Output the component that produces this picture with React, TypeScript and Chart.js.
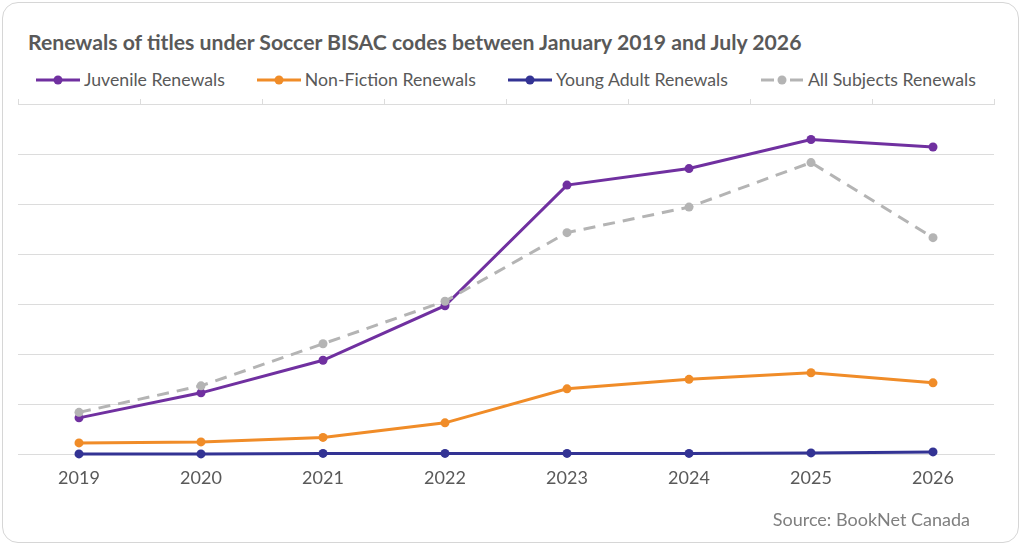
import { useEffect, useRef } from "react";
import { Chart, registerables } from "chart.js";

Chart.register(...registerables);

// data (gridline step = 100, no labels shown)
const years = ["2019", "2020", "2021", "2022", "2023", "2024", "2025", "2026"];
const juvenile = [73, 123, 188, 297, 538, 571, 629, 614];
const nonFiction = [23, 25, 34, 63, 131, 150, 163, 143];
const youngAdult = [1, 1, 2, 2, 2, 2, 3, 5];
const allSubjects = [84, 137, 221, 306, 443, 494, 583, 433];
const yMax = 700;
const yStep = 100;

const PURPLE = "#7030a0";
const ORANGE = "#f08c28";
const NAVY = "#333394";
const GREY = "#b4b4b4";
const GRID = "#dcdcdc";
const TEXT = "#595959";
const FONT = "Lato, 'Noto Sans', sans-serif";

const legendItems = [
  { label: "Juvenile Renewals", color: PURPLE, dashed: false },
  { label: "Non-Fiction Renewals", color: ORANGE, dashed: false },
  { label: "Young Adult Renewals", color: NAVY, dashed: false },
  { label: "All Subjects Renewals", color: GREY, dashed: true },
];

function Marker({ color, dashed }: { color: string; dashed: boolean }) {
  return (
    <svg width={44} height={12} style={{ display: "block" }}>
      {dashed ? (
        <>
          <line x1={1} y1={6} x2={14} y2={6} stroke={color} strokeWidth={3} />
          <line x1={30} y1={6} x2={43} y2={6} stroke={color} strokeWidth={3} />
        </>
      ) : (
        <line x1={0} y1={6} x2={44} y2={6} stroke={color} strokeWidth={3} />
      )}
      <circle cx={22} cy={6} r={4.5} fill={color} />
    </svg>
  );
}

export default function App() {
  const chartRef = useRef<HTMLCanvasElement>(null);
  const chartInstance = useRef<Chart | null>(null);

  useEffect(() => {
    document.body.style.margin = "0";
    if (!chartRef.current) return;
    const ctx = chartRef.current.getContext("2d");
    if (!ctx) return;

    if (chartInstance.current) chartInstance.current.destroy();

    const line = (label: string, data: number[], color: string, order: number) => ({
      label,
      data,
      borderColor: color,
      backgroundColor: color,
      borderWidth: 3,
      pointRadius: 4.5,
      pointHoverRadius: 4.5,
      pointBorderWidth: 0,
      clip: false as const,
      order,
    });

    chartInstance.current = new Chart(ctx, {
      type: "line",
      data: {
        labels: years,
        datasets: [
          line("Juvenile Renewals", juvenile, PURPLE, 3),
          line("Non-Fiction Renewals", nonFiction, ORANGE, 2),
          line("Young Adult Renewals", youngAdult, NAVY, 1),
          { ...line("All Subjects Renewals", allSubjects, GREY, 0), borderDash: [12, 8] },
        ],
      },
      options: {
        animation: false,
        responsive: true,
        maintainAspectRatio: false,
        layout: { padding: { left: 15, right: 24, top: 96, bottom: 40 } },
        plugins: {
          legend: { display: false },
          tooltip: { enabled: false },
        },
        scales: {
          x: {
            offset: true,
            grid: { display: false, drawTicks: false },
            border: { display: true, color: GRID },
            ticks: { color: TEXT, font: { family: FONT, size: 18 }, padding: 13 },
          },
          x2: {
            type: "category",
            position: "top",
            labels: years,
            offset: true,
            grid: { offset: true, drawOnChartArea: false, tickLength: 5, color: GRID },
            border: { display: true, color: GRID },
            ticks: { display: false },
          },
          y: {
            min: 0,
            max: yMax,
            ticks: { stepSize: yStep, display: false },
            grid: { color: GRID, drawTicks: false },
            border: { display: false },
          },
        },
      },
    });

    return () => {
      if (chartInstance.current) {
        chartInstance.current.destroy();
        chartInstance.current = null;
      }
    };
  }, []);

  return (
    <div
      style={{
        position: "absolute",
        left: 2,
        top: 2,
        width: 1017,
        height: 541,
        boxSizing: "border-box",
        border: "1px solid #d6d6d6",
        borderRadius: 16,
        background: "#fff",
        fontFamily: FONT,
      }}
    >
      <div
        style={{
          position: "absolute",
          left: 25,
          top: 27,
          lineHeight: "24px",
          fontSize: 21.2,
          fontWeight: 700,
          color: TEXT,
          whiteSpace: "nowrap",
        }}
      >
        Renewals of titles under Soccer BISAC codes between January 2019 and July 2026
      </div>
      <div
        style={{
          position: "absolute",
          left: 33,
          top: 67,
          display: "flex",
          gap: 32,
          lineHeight: "20px",
          fontSize: 17.7,
          color: TEXT,
          whiteSpace: "nowrap",
        }}
      >
        {legendItems.map((it) => (
          <div key={it.label} style={{ display: "flex", alignItems: "center", gap: 4 }}>
            <Marker color={it.color} dashed={it.dashed} />
            <span>{it.label}</span>
          </div>
        ))}
      </div>
      <div style={{ position: "absolute", left: 0, top: 0, width: 1015, height: 539 }}>
        <canvas ref={chartRef}></canvas>
      </div>
      <div
        style={{
          position: "absolute",
          right: 48,
          top: 506,
          lineHeight: "20px",
          fontSize: 18,
          color: "#7f7f7f",
          whiteSpace: "nowrap",
        }}
      >
        Source: BookNet Canada
      </div>
    </div>
  );
}
